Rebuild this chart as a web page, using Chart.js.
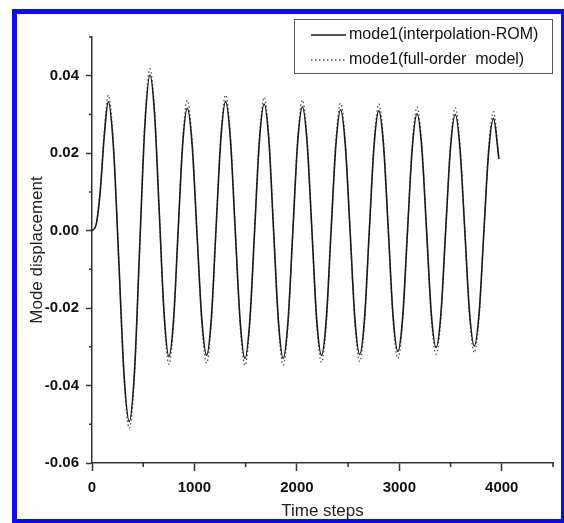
<!DOCTYPE html>
<html>
<head>
<meta charset="utf-8">
<script src="https://cdn.jsdelivr.net/npm/chart.js@4.4.0/dist/chart.umd.min.js"></script>
<style>
  body { margin: 0; background: #fff; }
  #frame { position: absolute; left: 12px; top: 9px; width: 544px; height: 505px; border: 5px solid #0a0aff; }
  #chart { position: absolute; left: 0; top: 0; }
</style>
</head>
<body>
<div id="frame"></div>
<canvas id="chart" width="564" height="523"></canvas>
<script>
// time steps shared by both series
var steps = [0, 40, 80, 120, 159,
  210, 262, 313, 364, 415, 465, 516, 566,
  612, 658, 705, 751, 796, 840, 885, 930,
  977, 1024, 1072, 1119, 1165, 1211, 1258, 1304,
  1351, 1398, 1446, 1493, 1540, 1587, 1634, 1681,
  1727, 1773, 1820, 1866, 1913, 1960, 2007, 2054,
  2100, 2147, 2193, 2240, 2287, 2333, 2380, 2427,
  2473, 2520, 2566, 2613, 2660, 2706, 2753, 2800,
  2846, 2893, 2939, 2986, 3033, 3079, 3126, 3173,
  3219, 3266, 3312, 3359, 3406, 3452, 3499, 3546,
  3592, 3639, 3685, 3732, 3779, 3825, 3872, 3919,
  3972];

// mode1, interpolation-ROM
var romVals = [0, 0.0015, 0.0100, 0.0245, 0.0333,
  0.0212, -0.0080, -0.0372, -0.0493, -0.0362, -0.0046, 0.0271, 0.0402,
  0.0296, 0.0039, -0.0219, -0.0325, -0.0231, -0.0005, 0.0222, 0.0316,
  0.0223, -0.0003, -0.0229, -0.0322, -0.0226, 0.0006, 0.0237, 0.0333,
  0.0236, 0.0002, -0.0233, -0.0330, -0.0234, -0.0002, 0.0231, 0.0327,
  0.0231, -0.0002, -0.0234, -0.0330, -0.0235, -0.0005, 0.0225, 0.0320,
  0.0226, -0.0001, -0.0228, -0.0322, -0.0229, -0.0005, 0.0219, 0.0312,
  0.0219, -0.0004, -0.0227, -0.0320, -0.0228, -0.0005, 0.0218, 0.0310,
  0.0219, -0.0001, -0.0221, -0.0312, -0.0222, -0.0005, 0.0212, 0.0302,
  0.0214, 0.0000, -0.0214, -0.0302, -0.0214, -0.0001, 0.0212, 0.0300,
  0.0212, 0.0001, -0.0210, -0.0298, -0.0212, -0.0004, 0.0204, 0.0290,
  0.0185];

// mode1, full-order model
var fullVals = [0, 0.0015, 0.0105, 0.0255, 0.0350,
  0.0222, -0.0080, -0.0382, -0.0510, -0.0372, -0.0046, 0.0281, 0.0418,
  0.0306, 0.0039, -0.0229, -0.0345, -0.0241, -0.0005, 0.0232, 0.0336,
  0.0233, -0.0003, -0.0239, -0.0342, -0.0236, 0.0006, 0.0247, 0.0350,
  0.0246, 0.0002, -0.0243, -0.0348, -0.0244, -0.0002, 0.0241, 0.0344,
  0.0241, -0.0002, -0.0244, -0.0347, -0.0245, -0.0005, 0.0235, 0.0337,
  0.0236, -0.0001, -0.0238, -0.0340, -0.0239, -0.0005, 0.0229, 0.0329,
  0.0229, -0.0004, -0.0237, -0.0338, -0.0238, -0.0005, 0.0228, 0.0327,
  0.0229, -0.0001, -0.0231, -0.0330, -0.0232, -0.0005, 0.0222, 0.0319,
  0.0224, 0.0000, -0.0224, -0.0319, -0.0224, -0.0001, 0.0222, 0.0317,
  0.0222, 0.0001, -0.0220, -0.0315, -0.0222, -0.0004, 0.0214, 0.0307,
  0.0190];

// labelled ticks and the short unlabelled ones
var xTicks = [0, 1000, 2000, 3000, 4000];
var yTicks = [-0.06, -0.04, -0.02, 0, 0.02, 0.04];
var xMinor = [500, 1500, 2500, 3500, 4500];
var yMinor = [-0.05, -0.03, -0.01, 0.01, 0.03, 0.05];

var FONT = "'Liberation Sans', Arial, sans-serif";
var AXIS = '#333';

function toPoints(vals) {
  return steps.map(function (s, i) { return { x: s, y: vals[i] }; });
}

var minorTicks = {
  id: 'minorTicks',
  afterDraw: function (chart) {
    var ctx = chart.ctx, a = chart.chartArea;
    var x = chart.scales.x, y = chart.scales.y;
    ctx.save();
    ctx.strokeStyle = AXIS;
    ctx.lineWidth = 1.5;
    ctx.beginPath();
    xMinor.forEach(function (v) {
      var px = x.getPixelForValue(v);
      ctx.moveTo(px, a.bottom);
      ctx.lineTo(px, a.bottom + 4);
    });
    yMinor.forEach(function (v) {
      var py = y.getPixelForValue(v);
      ctx.moveTo(a.left, py);
      ctx.lineTo(a.left - 3, py);
    });
    ctx.stroke();
    ctx.restore();
  }
};

// boxed legend in the top right corner
var boxLegend = {
  id: 'boxLegend',
  afterDraw: function (chart) {
    var ctx = chart.ctx;
    var bx = 294, by = 19, bw = 258, bh = 54;
    ctx.save();
    ctx.fillStyle = '#fff';
    ctx.fillRect(bx, by, bw, bh);
    ctx.strokeStyle = '#555';
    ctx.lineWidth = 1;
    ctx.strokeRect(bx + 0.5, by + 0.5, bw, bh);
    ctx.font = '16px ' + FONT;
    ctx.textBaseline = 'middle';
    ctx.fillStyle = '#111';
    chart.data.datasets.forEach(function (ds, i) {
      var ly = by + 16 + i * 25;
      ctx.strokeStyle = ds.borderColor;
      ctx.lineWidth = ds.borderWidth;
      ctx.setLineDash(ds.borderDash || []);
      ctx.beginPath();
      ctx.moveTo(bx + 17, ly);
      ctx.lineTo(bx + 52, ly);
      ctx.stroke();
      ctx.setLineDash([]);
      ctx.fillText(ds.label, bx + 55, ly);
    });
    ctx.restore();
  }
};

var ctx = document.getElementById('chart').getContext('2d');
var chart = new Chart(ctx, {
  type: 'line',
  data: {
    datasets: [{
      label: 'mode1(interpolation-ROM)',
      data: toPoints(romVals),
      borderColor: '#1a1a1a',
      borderWidth: 1.6,
      pointRadius: 0,
      cubicInterpolationMode: 'monotone',
      fill: false
    }, {
      label: 'mode1(full-order  model)',
      data: toPoints(fullVals),
      borderColor: '#555',
      borderWidth: 1.3,
      borderDash: [1.5, 2.5],
      pointRadius: 0,
      cubicInterpolationMode: 'monotone',
      fill: false
    }]
  },
  options: {
    responsive: false,
    animation: false,
    devicePixelRatio: 1,
    layout: { padding: { top: 37, right: 11, bottom: 0, left: 0 } },
    plugins: { legend: { display: false }, tooltip: { enabled: false } },
    scales: {
      x: {
        type: 'linear',
        min: 0,
        max: 4500,
        afterFit: function (s) { s.height = 60; },
        afterBuildTicks: function (s) { s.ticks = xTicks.map(function (v) { return { value: v }; }); },
        border: { color: AXIS, width: 1.5 },
        grid: { drawOnChartArea: false, tickLength: 8, tickWidth: 1.5, tickColor: AXIS },
        ticks: {
          autoSkip: false,
          maxRotation: 0,
          padding: 8,
          color: '#111',
          font: { family: FONT, size: 15, weight: 'bold' },
          callback: function (v) { return String(v); }
        },
        title: {
          display: true,
          text: 'Time steps',
          color: '#222',
          font: { family: FONT, size: 17 },
          padding: { top: 0, bottom: 1 }
        }
      },
      y: {
        min: -0.06,
        max: 0.05,
        afterFit: function (s) { s.width = 92; },
        afterBuildTicks: function (s) { s.ticks = yTicks.map(function (v) { return { value: v }; }); },
        border: { color: AXIS, width: 1.5 },
        grid: { drawOnChartArea: false, tickLength: 6, tickWidth: 1.5, tickColor: AXIS },
        ticks: {
          autoSkip: false,
          padding: 7,
          color: '#111',
          font: { family: FONT, size: 15, weight: 'bold' },
          callback: function (v) { return v.toFixed(2); }
        },
        title: {
          display: true,
          text: 'Mode displacement',
          color: '#222',
          font: { family: FONT, size: 17 },
          padding: { top: 27, bottom: 0 }
        }
      }
    }
  },
  plugins: [minorTicks, boxLegend]
});
</script>
</body>
</html>
